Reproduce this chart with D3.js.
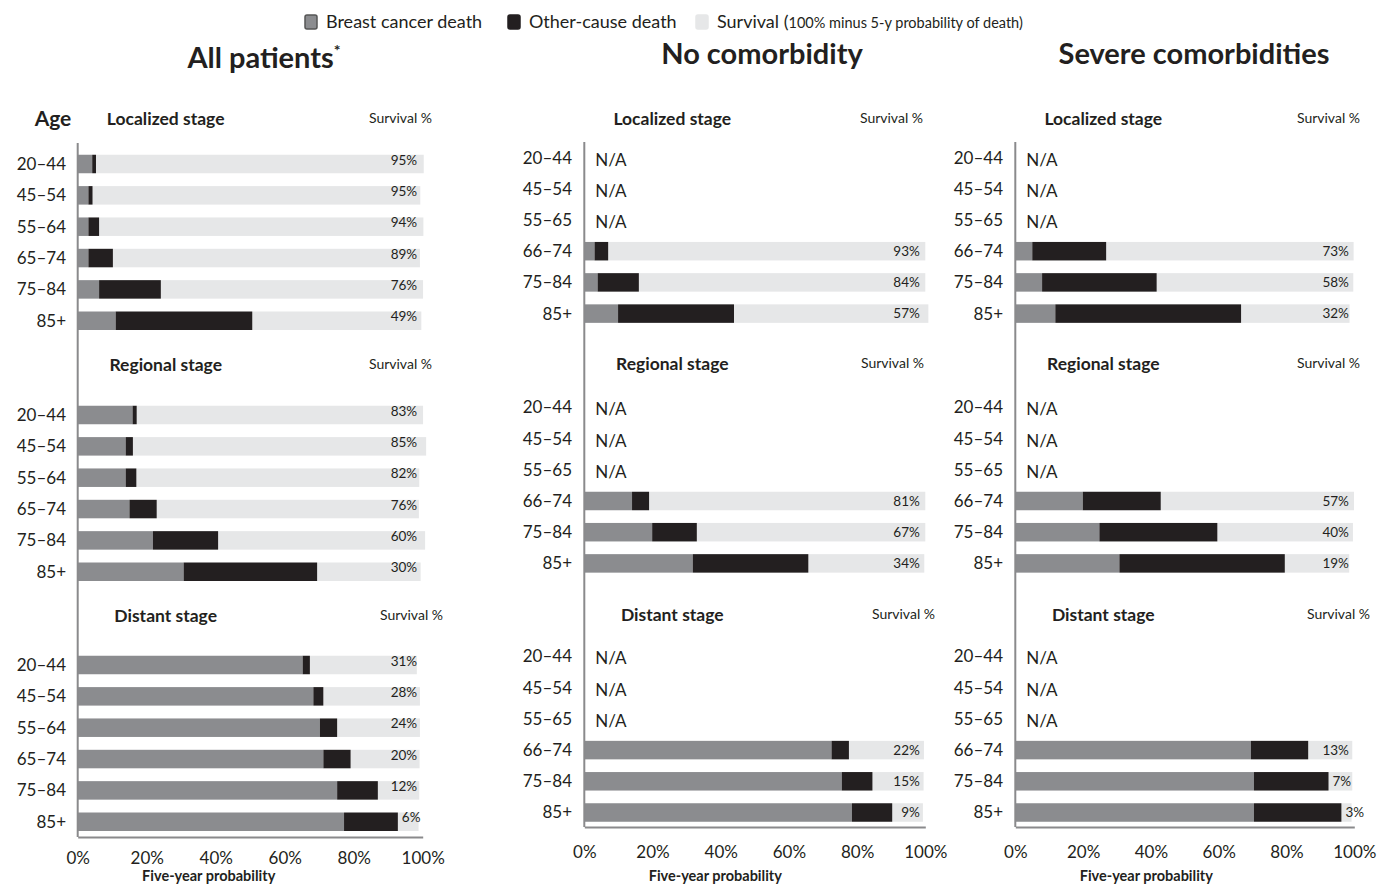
<!DOCTYPE html>
<html>
<head>
<meta charset="utf-8">
<script src="https://cdn.jsdelivr.net/npm/d3@7"></script>
<style>
  body { margin: 0; background: #fff; }
  svg { display: block; }
  text { font-family: Lato, "Open Sans", sans-serif; fill: #231f20; }
</style>
</head>
<body>
<svg id="chart" width="1377" height="886"></svg>
<script>
// ---- Categories and labels ----
const agesAll = ["20–44", "45–54", "55–64", "65–74", "75–84", "85+"];
const agesSub = ["20–44", "45–54", "55–65", "66–74", "75–84", "85+"];
const stageNames = ["Localized stage", "Regional stage", "Distant stage"];
const panelTitles = ["All patients", "No comorbidity", "Severe comorbidities"];
const tickValues = [0, 20, 40, 60, 80, 100];
const legendLabels = ["Breast cancer death", "Other-cause death", "Survival ("];
const legendNote = "100% minus 5-y probability of death)";

// ---- Five-year probabilities (%) : breast cancer death, other-cause death, survival ----
// All patients
const allLocBC    = [4.2, 3.1, 3.1, 3.1, 6.2, 11.0];
const allLocOther = [1.1, 1.2, 3.1, 7.1, 17.9, 39.6];
const allLocSurv  = [95, 95, 94, 89, 76, 49];
const allRegBC    = [15.9, 13.9, 13.9, 15.0, 21.8, 30.7];
const allRegOther = [1.2, 2.1, 3.1, 7.9, 18.9, 38.7];
const allRegSurv  = [83, 85, 82, 76, 60, 30];
const allDisBC    = [65.2, 68.3, 70.2, 71.2, 75.2, 77.2];
const allDisOther = [2.1, 2.9, 5.0, 7.9, 11.8, 15.6];
const allDisSurv  = [31, 28, 24, 20, 12, 6];

// No comorbidity (null = not available)
const noLocBC    = [null, null, null, 3.0, 3.9, 9.9];
const noLocOther = [null, null, null, 4.0, 12.1, 34.0];
const noLocSurv  = [null, null, null, 93, 84, 57];
const noRegBC    = [null, null, null, 14.0, 19.9, 31.8];
const noRegOther = [null, null, null, 5.0, 13.1, 33.9];
const noRegSurv  = [null, null, null, 81, 67, 34];
const noDisBC    = [null, null, null, 72.5, 75.5, 78.5];
const noDisOther = [null, null, null, 5.1, 9.0, 11.8];
const noDisSurv  = [null, null, null, 22, 15, 9];

// Severe comorbidities
const sevLocBC    = [null, null, null, 5.0, 7.9, 11.8];
const sevLocOther = [null, null, null, 21.8, 33.8, 54.8];
const sevLocSurv  = [null, null, null, 73, 58, 32];
const sevRegBC    = [null, null, null, 19.9, 24.8, 30.7];
const sevRegOther = [null, null, null, 23.0, 34.8, 48.8];
const sevRegSurv  = [null, null, null, 57, 40, 19];
const sevDisBC    = [null, null, null, 69.5, 70.4, 70.4];
const sevDisOther = [null, null, null, 16.9, 22.0, 25.8];
const sevDisSurv  = [null, null, null, 13, 7, 3];

// ---- Styling ----
const colBC = "#8b8c8f", colOther = "#231f20", colSurv = "#e6e7e8", colAxis = "#8a8a8c";
const barH = 18.5;

const svg = d3.select("#chart");

function stageRows(ages, bc, other, surv) {
  return ages.map((a, i) => ({ age: a, bc: bc[i], other: other[i], surv: surv[i] }));
}

const panels = [
  {
    title: panelTitles[0], star: true, titleX: 264, titleY: 68,
    x0: 77.7, x1: 422.7, lineTop: 143, axisY: 837, ageRight: 66, tickPad: 15,
    rowStart: [164, 415, 665], step: 31.35, headY: [125, 371, 622],
    survHeadRight: [432, 432, 443], valDy: -4,
    stages: [
      stageRows(agesAll, allLocBC, allLocOther, allLocSurv),
      stageRows(agesAll, allRegBC, allRegOther, allRegSurv),
      stageRows(agesAll, allDisBC, allDisOther, allDisSurv)
    ]
  },
  {
    title: panelTitles[1], star: false, titleX: 762, titleY: 64,
    x0: 584.3, x1: 925.3, lineTop: 142, axisY: 827, ageRight: 572, tickPad: 19,
    rowStart: [157.6, 407.4, 656.5], step: 31.2, headY: [125, 370, 621],
    survHeadRight: [923, 924, 935], valDy: 0,
    stages: [
      stageRows(agesSub, noLocBC, noLocOther, noLocSurv),
      stageRows(agesSub, noRegBC, noRegOther, noRegSurv),
      stageRows(agesSub, noDisBC, noDisOther, noDisSurv)
    ]
  },
  {
    title: panelTitles[2], star: false, titleX: 1194, titleY: 64,
    x0: 1015.3, x1: 1354.3, lineTop: 142, axisY: 827, ageRight: 1003, tickPad: 19,
    rowStart: [157.6, 407.4, 656.5], step: 31.2, headY: [125, 370, 621],
    survHeadRight: [1360, 1360, 1370], valDy: 0,
    stages: [
      stageRows(agesSub, sevLocBC, sevLocOther, sevLocSurv),
      stageRows(agesSub, sevRegBC, sevRegOther, sevRegSurv),
      stageRows(agesSub, sevDisBC, sevDisOther, sevDisSurv)
    ]
  }
];

// ---- Legend ----
const legend = svg.append("g").attr("transform", "translate(0,22)");
const legendItems = [
  { x: 305, color: colBC, stroke: "#555", label: legendLabels[0] },
  { x: 508, color: colOther, stroke: colOther, label: legendLabels[1] },
  { x: 696, color: colSurv, stroke: colSurv, label: legendLabels[2] }
];
legendItems.forEach(it => {
  legend.append("rect").attr("x", it.x).attr("y", -7).attr("width", 12).attr("height", 14)
    .attr("rx", 2).attr("fill", it.color).attr("stroke", it.stroke).attr("stroke-width", 1.5);
  const t = legend.append("text").attr("x", it.x + 21).attr("y", 6).attr("font-size", 18).text(it.label);
  if (it.label === legendLabels[2]) {
    t.append("tspan").attr("font-size", 14.5).text(legendNote);
  }
});

// ---- Panels ----
panels.forEach((p, pi) => {
  const g = svg.append("g");
  const x = d3.scaleLinear().domain([0, 100]).range([p.x0, p.x1]);

  // Panel title
  const tt = g.append("text").attr("x", p.titleX).attr("y", p.titleY)
    .attr("text-anchor", "middle").attr("font-size", 29).attr("font-weight", 700).text(p.title);
  if (p.star) tt.append("tspan").attr("font-size", 16).attr("dy", -12).text("*");

  if (pi === 0) {
    g.append("text").attr("x", 53).attr("y", 126).attr("text-anchor", "middle")
      .attr("font-size", 21).attr("font-weight", 700).text("Age");
  }

  p.stages.forEach((rows, si) => {
    const y = d3.scalePoint().domain(rows.map(r => r.age))
      .range([p.rowStart[si], p.rowStart[si] + p.step * (rows.length - 1)]);

    // Stage header
    g.append("text").attr("x", p.x0 + 88).attr("y", p.headY[si]).attr("text-anchor", "middle")
      .attr("font-size", 17.5).attr("font-weight", 700).text(stageNames[si]);
    g.append("text").attr("x", p.survHeadRight[si]).attr("y", p.headY[si] - 2).attr("text-anchor", "end")
      .attr("font-size", 14).text("Survival %");

    // Age labels
    g.selectAll(null).data(rows).join("text")
      .attr("x", p.ageRight).attr("y", d => y(d.age)).attr("dy", "0.35em")
      .attr("text-anchor", "end").attr("font-size", 17).text(d => d.age);

    const avail = rows.filter(r => r.bc !== null);
    const na = rows.filter(r => r.bc === null);

    // N/A markers
    g.selectAll(null).data(na).join("text")
      .attr("x", p.x0 + 11).attr("y", d => y(d.age) + 2).attr("dy", "0.35em")
      .attr("font-size", 17).text("N/A");

    // Stacked segments
    const segs = [];
    avail.forEach(r => {
      segs.push({ age: r.age, from: 0, to: r.bc, color: colBC });
      segs.push({ age: r.age, from: r.bc, to: r.bc + r.other, color: colOther });
      segs.push({ age: r.age, from: r.bc + r.other, to: r.bc + r.other + r.surv, color: colSurv });
    });
    g.selectAll(null).data(segs.filter(s => s.color === colSurv)).join("rect")
      .attr("x", d => x(d.from)).attr("width", d => x(d.to) - x(d.from))
      .attr("y", d => y(d.age) - barH / 2).attr("height", barH).attr("fill", d => d.color);
    g.selectAll(null).data(segs.filter(s => s.color !== colSurv)).join("rect")
      .attr("x", d => x(d.from)).attr("width", d => x(d.to) - x(d.from))
      .attr("y", d => y(d.age) - barH / 2).attr("height", barH).attr("fill", d => d.color);

    // Survival values: right-aligned near 100%, pushed past the death segments if they would overlap
    g.selectAll(null).data(avail).join("text")
      .attr("y", d => y(d.age) + p.valDy).attr("dy", "0.35em")
      .attr("text-anchor", "start").attr("font-size", 13.5).text(d => d.surv + "%")
      .each(function (d) {
        const w = this.getComputedTextLength();
        const left = Math.max(x(98.4) - w, x(d.bc + d.other) + 4);
        d3.select(this).attr("x", left);
      });
  });

  // Vertical baseline
  g.append("line").attr("x1", p.x0).attr("x2", p.x0).attr("y1", p.lineTop).attr("y2", p.axisY)
    .attr("stroke", colAxis).attr("stroke-width", 2);

  // Bottom axis
  const ax = g.append("g").attr("transform", `translate(0,${p.axisY})`)
    .call(d3.axisBottom(x).tickValues(tickValues).tickFormat(d => d + "%").tickSize(0).tickPadding(p.tickPad));
  ax.select(".domain").attr("stroke", colAxis).attr("stroke-width", 2);
  ax.selectAll("text").attr("font-size", 17).attr("fill", "#231f20")
    .style("font-family", "Lato, 'Open Sans', sans-serif");

  g.append("text").attr("x", p.x0 + 131).attr("y", 881).attr("text-anchor", "middle")
    .attr("font-size", 14.5).attr("font-weight", 700).text("Five-year probability");
});
</script>
</body>
</html>
